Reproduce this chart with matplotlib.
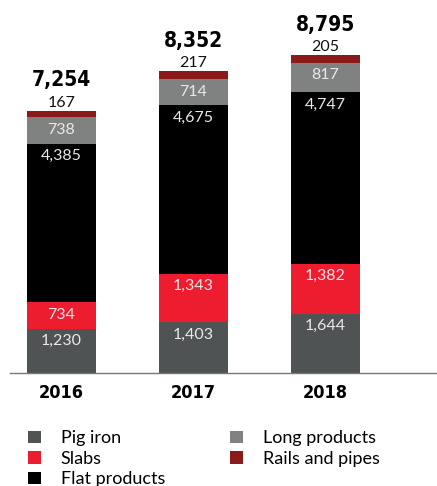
import matplotlib.pyplot as plt

years = ['2016', '2017', '2018']
series = ['Pig iron', 'Slabs', 'Flat products', 'Long products', 'Rails and pipes']
pig_iron = [1230, 1403, 1644]
slabs = [734, 1343, 1382]
flat_products = [4385, 4675, 4747]
long_products = [738, 714, 817]
rails_pipes = [167, 217, 205]
totals = [7254, 8352, 8795]

colors = ['#505354', '#ed1c2e', '#000000', '#7f8281', '#8b1a1a']
values = [pig_iron, slabs, flat_products, long_products, rails_pipes]

label_font = ['Lato', 'DejaVu Sans']
bold_font = ['DejaVu Sans']

fig = plt.figure(figsize=(4.37, 4.86), dpi=100)
ax = fig.add_axes([10 / 437, 1 - 373 / 486, 427 / 437, 353 / 486])

x = range(len(years))
bottom = [0, 0, 0]
for name, vals, col in zip(series, values, colors):
    ax.bar(x, vals, bottom=bottom, width=0.523, color=col, label=name)
    tops = [b + v for b, v in zip(bottom, vals)]
    for i, v in enumerate(vals):
        if name == 'Rails and pipes':
            ax.annotate(f'{v:,}', (i, tops[i]), xytext=(0, 6), textcoords='offset points',
                        ha='center', va='center', fontsize=11.5, color='#111111', family=label_font)
        else:
            ax.annotate(f'{v:,}', (i, tops[i]), xytext=(0, -9), textcoords='offset points',
                        ha='center', va='center', fontsize=11.5, color='#e8e8e8', family=label_font)
    bottom = tops

for i, t in enumerate(totals):
    ax.annotate(f'{t:,}', (i, bottom[i]), xytext=(0, 22), textcoords='offset points',
                ha='center', va='center', fontsize=15, fontweight='bold',
                fontstretch='condensed', family=bold_font)

ax.set_xlim(-0.39, 2.845)
ax.set_ylim(0, 9773)
ax.set_xticks(list(x))
ax.set_xticklabels(years, fontsize=13, fontweight='bold', fontstretch='condensed', family=bold_font)
ax.tick_params(axis='x', length=0, pad=8)
ax.set_yticks([])
for s in ['top', 'right', 'left']:
    ax.spines[s].set_visible(False)
ax.spines['bottom'].set_color('#777777')
ax.spines['bottom'].set_linewidth(1)

handles, labels = ax.get_legend_handles_labels()
fig.legend(handles, labels, loc='upper left',
           bbox_to_anchor=(12 / 437, 1 - 414 / 486), ncol=2, frameon=False,
           prop={'family': label_font, 'size': 13}, handlelength=0.7, handleheight=0.7,
           handletextpad=1.1, columnspacing=3.6, labelspacing=0.25)

fig.savefig('out.png', dpi=100)
